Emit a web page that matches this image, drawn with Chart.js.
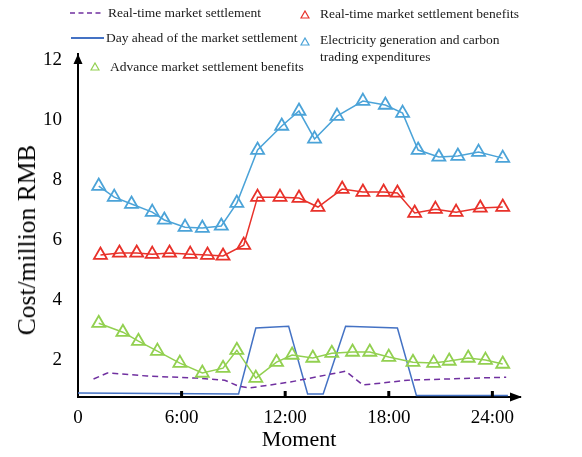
<!DOCTYPE html>
<html lang="en">
<head>
  <meta charset="UTF-8">
  <title>Cost by moment</title>
  <style>
    html, body {
      margin: 0;
      padding: 0;
      background: #fff;
    }
    #wrap {
      position: relative;
      width: 582px;
      height: 457px;
      font-family: "Liberation Serif", "Times New Roman", serif;
    }
    #chart {
      position: absolute;
      left: 0;
      top: 0;
    }
    .lg {
      position: absolute;
      font-size: 13.5px;
      line-height: 17px;
      color: #1a1a1a;
      white-space: nowrap;
    }
    .sym {
      position: absolute;
    }
    #ytitle {
      position: absolute;
      left: 27px;
      top: 240px;
      font-size: 25.5px;
      line-height: 30px;
      color: #000;
      white-space: nowrap;
      transform: translate(-50%, -50%) rotate(-90deg);
    }
  </style>
</head>
<body>
  <div id="wrap">
    <canvas id="chart" width="582" height="457"></canvas>

    <div id="ytitle">Cost/million RMB</div>

    <svg class="sym" style="left:70px; top:10px;" width="32" height="6"><line x1="0" y1="3" x2="32" y2="3" stroke="#7030a0" stroke-width="1.5" stroke-dasharray="5,3.5"/></svg>
    <div class="lg" style="left:108px; top:4px;">Real-time market settlement</div>

    <div class="sym" style="left:71px; top:37px; width:33px; border-top:2px solid #4472c4;"></div>
    <div class="lg" style="left:106px; top:29px;">Day ahead of the market settlement</div>

    <svg class="sym" style="left:90px; top:62px;" width="10" height="9"><polygon points="5,1 9,8 1,8" fill="none" stroke="#92d050" stroke-width="1.2"/></svg>
    <div class="lg" style="left:110px; top:58px;">Advance market settlement benefits</div>

    <svg class="sym" style="left:300px; top:10px;" width="10" height="9"><polygon points="5,1 9,8 1,8" fill="none" stroke="#e8312a" stroke-width="1.2"/></svg>
    <div class="lg" style="left:320px; top:5px;">Real-time market settlement benefits</div>

    <svg class="sym" style="left:300px; top:37px;" width="10" height="9"><polygon points="5,1 9,8 1,8" fill="none" stroke="#4ba3d8" stroke-width="1.2"/></svg>
    <div class="lg" style="left:320px; top:31px;">Electricity generation and carbon<br>trading expenditures</div>
  </div>

  <script src="https://cdn.jsdelivr.net/npm/chart.js"></script>
  <script>
    // hours (x) and cost in million RMB (y)
    const genHours = [1.2, 2.1, 3.1, 4.3, 5.0, 6.2, 7.2, 8.3, 9.2, 10.4, 11.8, 12.8, 13.7, 15.0, 16.5, 17.8, 18.8, 19.7, 20.9, 22.0, 23.2, 24.6];
    const genCost = [7.8, 7.43, 7.2, 6.93, 6.67, 6.43, 6.4, 6.47, 7.23, 9.0, 9.8, 10.3, 9.37, 10.13, 10.63, 10.5, 10.23, 9.0, 8.77, 8.8, 8.93, 8.73];

    const rtBenefitHours = [1.3, 2.4, 3.4, 4.3, 5.3, 6.5, 7.5, 8.4, 9.6, 10.4, 11.7, 12.8, 13.9, 15.3, 16.5, 17.7, 18.5, 19.5, 20.7, 21.9, 23.3, 24.6];
    const rtBenefitCost = [5.5, 5.57, 5.57, 5.53, 5.57, 5.53, 5.5, 5.47, 5.83, 7.43, 7.43, 7.4, 7.1, 7.7, 7.6, 7.6, 7.57, 6.9, 7.03, 6.93, 7.07, 7.1];

    const advBenefitHours = [1.2, 2.6, 3.5, 4.6, 5.9, 7.2, 8.4, 9.2, 10.3, 11.5, 12.4, 13.6, 14.7, 15.9, 16.9, 18.0, 19.4, 20.6, 21.5, 22.6, 23.6, 24.6];
    const advBenefitCost = [3.23, 2.93, 2.63, 2.3, 1.9, 1.57, 1.73, 2.33, 1.4, 1.93, 2.17, 2.07, 2.23, 2.27, 2.27, 2.1, 1.93, 1.9, 1.97, 2.07, 2.0, 1.87];

    const rtSettleHours = [0.9, 1.7, 4.0, 6.9, 8.5, 9.3, 9.9, 12.3, 15.5, 16.5, 19.1, 24.8];
    const rtSettleCost = [1.37, 1.57, 1.47, 1.4, 1.33, 1.13, 1.07, 1.27, 1.63, 1.17, 1.33, 1.43];

    const daSettleHours = [0, 9.3, 10.3, 12.2, 13.3, 14.2, 15.5, 18.5, 19.6, 24.9];
    const daSettleCost = [0.9, 0.87, 3.07, 3.13, 0.87, 0.87, 3.13, 3.07, 0.82, 0.82];

    const xTickValues = [0, 6, 12, 18, 24];
    const xTickLabels = ['0', '6:00', '12:00', '18:00', '24:00'];
    const yTickValues = [2, 4, 6, 8, 10, 12];

    function pts(xs, ys) {
      return xs.map((x, i) => ({ x: x, y: ys[i] }));
    }

    function markerSet(label, xs, ys, color) {
      return {
        label: label,
        data: pts(xs, ys),
        borderColor: color,
        borderWidth: 1.5,
        pointStyle: 'triangle',
        pointRadius: 7.5,
        pointBorderWidth: 1.8,
        pointBorderColor: color,
        pointBackgroundColor: 'rgba(0,0,0,0)',
        tension: 0,
        clip: false
      };
    }

    // axis arrows and the small inward tick marks
    const axisDecor = {
      id: 'axisDecor',
      afterDraw(chart) {
        const { ctx, chartArea: a } = chart;
        const x = chart.scales.x;
        ctx.save();
        ctx.fillStyle = '#000';
        ctx.beginPath();
        ctx.moveTo(a.left, a.top);
        ctx.lineTo(a.left - 4.5, a.top + 10);
        ctx.lineTo(a.left + 4.5, a.top + 10);
        ctx.closePath();
        ctx.fill();
        ctx.beginPath();
        ctx.moveTo(a.right + 2, a.bottom);
        ctx.lineTo(a.right - 10, a.bottom - 4.5);
        ctx.lineTo(a.right - 10, a.bottom + 4.5);
        ctx.closePath();
        ctx.fill();
        xTickValues.slice(1).forEach(v => {
          const px = x.getPixelForValue(v);
          ctx.fillRect(px - 1.5, a.bottom - 6, 3, 6);
        });
        ctx.restore();
      }
    };

    const serif = '"Liberation Serif", "Times New Roman", serif';

    new Chart(document.getElementById('chart'), {
      type: 'line',
      data: {
        datasets: [
          markerSet('Electricity generation and carbon trading expenditures', genHours, genCost, '#4ba3d8'),
          markerSet('Real-time market settlement benefits', rtBenefitHours, rtBenefitCost, '#e8312a'),
          markerSet('Advance market settlement benefits', advBenefitHours, advBenefitCost, '#92d050'),
          {
            label: 'Real-time market settlement',
            data: pts(rtSettleHours, rtSettleCost),
            borderColor: '#7030a0',
            borderWidth: 1.5,
            borderDash: [6, 4],
            pointRadius: 0,
            tension: 0
          },
          {
            label: 'Day ahead of the market settlement',
            data: pts(daSettleHours, daSettleCost),
            borderColor: '#4472c4',
            borderWidth: 1.5,
            pointRadius: 0,
            tension: 0
          }
        ]
      },
      options: {
        responsive: false,
        animation: false,
        layout: { padding: { left: 0, right: 62, top: 54, bottom: 0 } },
        plugins: {
          legend: { display: false },
          tooltip: { enabled: false }
        },
        scales: {
          x: {
            type: 'linear',
            min: 0,
            max: 25.6,
            afterFit(scale) { scale.height = 60; },
            afterBuildTicks(scale) { scale.ticks = xTickValues.map(v => ({ value: v })); },
            grid: { display: false, drawTicks: false },
            border: { display: true, color: '#000', width: 2 },
            ticks: {
              padding: 10,
              color: '#000',
              font: { family: serif, size: 19 },
              callback: (v) => xTickLabels[xTickValues.indexOf(v)]
            },
            title: {
              display: true,
              text: 'Moment',
              color: '#000',
              font: { family: serif, size: 22 },
              padding: { top: 0, bottom: 4 }
            }
          },
          y: {
            min: 0.77,
            max: 12.2,
            afterFit(scale) { scale.width = 78; },
            afterBuildTicks(scale) { scale.ticks = yTickValues.map(v => ({ value: v })); },
            grid: { display: false, drawTicks: false },
            border: { display: true, color: '#000', width: 2 },
            ticks: {
              padding: 16,
              color: '#000',
              font: { family: serif, size: 19 }
            },
            title: { display: false }
          }
        }
      },
      plugins: [axisDecor]
    });
  </script>
</body>
</html>
